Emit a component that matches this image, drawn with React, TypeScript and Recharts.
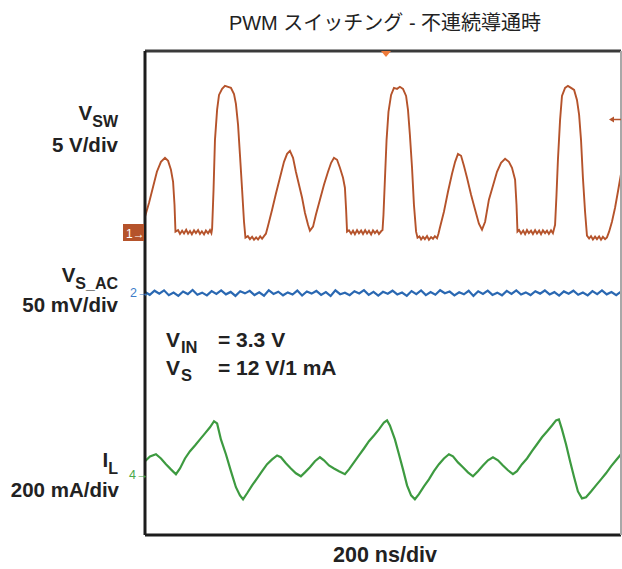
import React from "react";
import { ComposedChart, Line, XAxis, YAxis, ReferenceLine } from "recharts";

const title = "PWM スイッチング - 不連続導通時";
const timeLabel = "200 ns/div";

// time in ns, 200 ns/div, 10 divisions
const majorTimeGrid = [200, 400, 600, 800, 1200, 1400, 1600, 1800];
const majorTimeTicks = [0, 200, 400, 600, 800, 1000, 1200, 1400, 1600, 1800, 2000];
// vertical grid in divisions, 8 divisions
const majorDivGrid = [-3, -2, -1, 1, 2, 3];
const majorDivTicks = [-4, -3, -2, -1, 0, 1, 2, 3, 4];

// CH1 V_SW [ns, V]
const vswSamples: [number, number][] = [
  [0, 1.3], [17, 2.46], [34, 3.78], [50, 5.02], [67, 5.84], [84, 6.17], [97, 5.92], [109, 5.18], [118, 4.19], [124, 2.29], [128, 0.07],
  [139, 0.2], [147, -0.12], [156, 0.15], [164, -0.08], [173, 0.22], [181, -0.1], [189, 0.12], [197, -0.15], [206, 0.18], [214, -0.05],
  [223, 0.2], [231, -0.12], [239, 0.1], [248, -0.16], [256, 0.16], [265, -0.06], [273, 0.2], [279, -0.05],
  [282, 0.31], [288, 3.53], [294, 7.66], [303, 10.16], [311, 11.37], [324, 11.87], [336, 12.12], [349, 12.04], [361, 11.96], [374, 11.45],
  [382, 10.63], [391, 8.89], [399, 6.42], [408, 3.53], [416, 0.89], [422, -0.43],
  [432, -0.3], [441, -0.55], [450, -0.35], [458, -0.6], [467, -0.4], [475, -0.58], [484, -0.32], [492, -0.52], [500, -0.3], [508, -0.1],
  [517, 0.56], [534, 1.88], [550, 3.2], [567, 4.52], [584, 5.84], [597, 6.5], [609, 6.75], [622, 6.17], [634, 5.02], [647, 3.94],
  [660, 2.87], [672, 1.63], [685, 0.64], [693, 0.15], [706, 0.48], [718, 1.47], [735, 2.71], [752, 3.94], [769, 5.02], [782, 5.76],
  [794, 6.17], [807, 6.01], [819, 5.35], [832, 4.52], [840, 3.7], [845, 1.88], [849, 0.07],
  [857, 0.18], [866, -0.1], [874, 0.15], [882, -0.14], [891, 0.2], [899, -0.06], [908, 0.16], [916, -0.12], [925, 0.2], [933, -0.08],
  [941, 0.14], [950, -0.16], [958, 0.18], [966, -0.05], [975, 0.16], [983, -0.12], [992, 0.1], [998, 0.2],
  [1002, 1.47], [1008, 4.36], [1015, 7.66], [1023, 9.97], [1034, 11.37], [1046, 11.95], [1059, 11.87], [1071, 12.04], [1084, 11.87],
  [1097, 11.29], [1105, 10.13], [1113, 8.07], [1122, 5.35], [1130, 2.29], [1139, 0.07], [1145, -0.43],
  [1153, -0.32], [1160, -0.58], [1168, -0.36], [1176, -0.55], [1185, -0.3], [1193, -0.6], [1202, -0.38], [1210, -0.52], [1218, -0.3], [1227, -0.48], [1233, -0.1],
  [1239, 0.4], [1256, 1.72], [1273, 3.37], [1290, 4.85], [1303, 5.84], [1315, 6.5], [1328, 6.34], [1340, 5.51], [1353, 4.52],
  [1370, 3.12], [1387, 1.88], [1403, 0.73], [1416, 0.23], [1429, 0.89], [1445, 2.71], [1462, 3.86], [1479, 5.02], [1496, 5.76],
  [1513, 6.09], [1529, 5.84], [1542, 5.35], [1555, 4.36], [1561, 2.29], [1565, 0.07],
  [1572, 0.2], [1580, -0.1], [1589, 0.16], [1597, -0.14], [1605, 0.2], [1613, -0.06], [1622, 0.15], [1630, -0.12], [1639, 0.2], [1647, -0.08],
  [1656, 0.16], [1664, -0.14], [1672, 0.18], [1681, -0.05], [1689, 0.15], [1697, -0.12], [1706, 0.18], [1714, -0.06],
  [1723, 0.64], [1729, 3.12], [1735, 6.01], [1744, 9.31], [1752, 11.29], [1765, 11.95], [1777, 12.12], [1790, 11.95], [1803, 11.78],
  [1815, 10.96], [1824, 9.72], [1832, 7.66], [1840, 4.52], [1849, 1.72], [1857, -0.26],
  [1866, -0.5], [1874, -0.3], [1882, -0.58], [1891, -0.34], [1899, -0.55], [1908, -0.32], [1916, -0.6], [1924, -0.36], [1933, -0.55], [1941, -0.4],
  [1950, 0.07], [1962, 0.89], [1975, 2.05], [1987, 3.37], [2000, 4.85],
];

// CH2 V_S AC [ns, mV]
const vsacSamples: [number, number][] = [
  [0, 0.8], [20, -1.5], [40, 1.9], [60, -0.6], [80, 2.2], [100, -1.8], [120, 0.4], [140, -2.3], [160, 1.2], [180, -0.9],
  [200, 2.5], [220, -1.4], [240, 0.3], [260, -2.0], [280, 1.6], [300, -0.7], [320, 2.1], [340, -1.1], [360, 0.9], [380, -2.4],
  [400, 1.4], [420, -0.3], [440, 1.8], [460, -1.7], [480, 0.6], [500, -2.2], [520, 2.3], [540, -0.8], [560, 1.1], [580, -1.9],
  [600, 0.5], [620, -1.3], [640, 2.0], [660, -2.1], [680, 1.3], [700, -0.5], [720, 1.7], [740, -1.6], [760, 0.7], [780, -2.5],
  [800, 2.2], [820, -1.0], [840, 0.2], [860, -1.8], [880, 1.5], [900, -0.4], [920, 2.4], [940, -1.5], [960, 0.9], [980, -2.1],
  [1000, 1.0], [1020, -0.6], [1040, 1.9], [1060, -1.2], [1080, 0.4], [1100, -2.3], [1120, 1.6], [1140, -0.9], [1160, 2.1], [1180, -1.7],
  [1200, 0.8], [1220, -1.4], [1240, 2.3], [1260, -0.2], [1280, 1.2], [1300, -2.0], [1320, 0.6], [1340, -1.1], [1360, 1.8], [1380, -2.4],
  [1400, 1.4], [1420, -0.7], [1440, 2.0], [1460, -1.6], [1480, 0.3], [1500, -1.9], [1520, 1.7], [1540, -0.8], [1560, 2.2], [1580, -1.3],
  [1600, 0.5], [1620, -1.7], [1640, 1.5], [1660, -0.5], [1680, 2.1], [1700, -1.2], [1720, 0.7], [1740, -2.2], [1760, 1.3], [1780, -0.6],
  [1800, 1.9], [1820, -1.5], [1840, 0.4], [1860, -2.0], [1880, 1.6], [1900, -0.9], [1920, 2.2], [1940, -1.1], [1960, 0.8], [1980, -1.8],
  [2000, 1.1],
];

// CH4 I_L [ns, mA]
const ilSamples: [number, number][] = [
  [0, 44], [21, 60], [46, 67], [67, 53], [88, 34], [109, 17], [130, 1], [147, 20], [168, 53], [189, 77],
  [210, 96], [231, 116], [252, 136], [273, 156], [290, 176], [303, 169], [319, 116], [340, 67], [361, 11], [382, -42],
  [399, -69], [412, -82], [429, -62], [450, -36], [471, -13], [492, 11], [513, 34], [534, 50], [555, 63], [571, 57],
  [592, 37], [613, 20], [634, 4], [655, -6], [672, 7], [693, 24], [714, 44], [735, 57], [752, 47], [773, 30],
  [794, 20], [815, 11], [840, 1], [857, 17], [878, 40], [899, 63], [920, 86], [941, 110], [962, 129], [983, 149],
  [1004, 172], [1017, 179], [1029, 162], [1050, 116], [1067, 67], [1084, 17], [1101, -36], [1118, -69], [1134, -82], [1151, -65],
  [1172, -39], [1193, -16], [1214, 11], [1235, 34], [1256, 53], [1277, 67], [1294, 60], [1315, 40], [1336, 24], [1357, 7],
  [1378, -6], [1399, 11], [1420, 30], [1441, 47], [1462, 57], [1483, 47], [1504, 30], [1525, 14], [1546, 1], [1563, 11],
  [1584, 34], [1605, 53], [1626, 77], [1647, 100], [1668, 123], [1689, 142], [1710, 162], [1727, 179], [1739, 182], [1752, 149],
  [1769, 100], [1786, 44], [1803, -9], [1819, -56], [1836, -79], [1853, -75], [1874, -56], [1895, -36], [1916, -16], [1937, 4],
  [1958, 27], [1979, 47], [2000, 67],
];

const vswData = vswSamples.map(([t, v]) => ({ t, v }));
const vsacData = vsacSamples.map(([t, v]) => ({ t, v }));
const ilData = ilSamples.map(([t, v]) => ({ t, v }));

const W = 622;
const H = 569;
const C1 = "#b5532b";
const C2 = "#2a68b2";
const C4 = "#3d9a40";
const GRID = "#b8a77b";
const FONT = "'Liberation Sans', Arial, sans-serif";

export default function App() {
  return (
    <div style={{ position: "absolute", left: 0, top: 0, width: W, height: H, background: "#fff" }}>
      <ComposedChart width={W} height={H} margin={{ top: 51, right: 1, bottom: 34, left: 145 }}>
        <XAxis xAxisId="t" type="number" dataKey="t" domain={[0, 2000]} ticks={majorTimeTicks}
          orientation="bottom" mirror tick={false} tickLine={false}
          axisLine={{ stroke: "#1c1c1c", strokeWidth: 3 }} />
        <XAxis xAxisId="top" type="number" domain={[0, 2000]} ticks={majorTimeTicks}
          orientation="top" mirror tick={false} tickLine={false}
          axisLine={{ stroke: "#3a3a3a", strokeWidth: 3 }} />
        <YAxis yAxisId="div" type="number" domain={[-4, 4]} ticks={majorDivTicks}
          orientation="left" mirror tick={false} tickLine={false}
          axisLine={{ stroke: "#1c1c1c", strokeWidth: 3 }} />
        <YAxis yAxisId="divR" type="number" domain={[-4, 4]} ticks={majorDivTicks}
          orientation="right" mirror tick={false} tickLine={false}
          axisLine={{ stroke: "#a8a8a8", strokeWidth: 2 }} />
        <YAxis yAxisId="v1" hide type="number" domain={[-25, 15]} />
        <YAxis yAxisId="v2" hide type="number" domain={[-200, 200]} />
        <YAxis yAxisId="i4" hide type="number" domain={[-200, 1400]} />

        {/* dotted grid */}
        {majorTimeGrid.map((t) => (
          <ReferenceLine key={"gx" + t} xAxisId="t" yAxisId="div" x={t} stroke={GRID} strokeWidth={1.5} strokeDasharray="1.5 10.6" />
        ))}
        {majorDivGrid.map((d) => (
          <ReferenceLine key={"gy" + d} xAxisId="t" yAxisId="div" y={d} stroke={GRID} strokeWidth={1.5} strokeDasharray="1.5 8.02" />
        ))}
        {/* centre cross */}
        <ReferenceLine xAxisId="t" yAxisId="div" x={1000} stroke={GRID} strokeWidth={1.4} />
        <ReferenceLine xAxisId="t" yAxisId="div" y={0} stroke={GRID} strokeWidth={1.4} />

        <Line xAxisId="t" yAxisId="v2" data={vsacData} dataKey="v" stroke={C2} strokeWidth={2.2} dot={false} isAnimationActive={false} />
        <Line xAxisId="t" yAxisId="i4" data={ilData} dataKey="v" stroke={C4} strokeWidth={2.2} dot={false} isAnimationActive={false} />
        <Line xAxisId="t" yAxisId="v1" data={vswData} dataKey="v" stroke={C1} strokeWidth={1.9} dot={false} isAnimationActive={false} />
      </ComposedChart>

      <svg width={W} height={H} style={{ position: "absolute", left: 0, top: 0, pointerEvents: "none" }} fontFamily={FONT}>
        <text x={385} y={30} textAnchor="middle" fontSize={20} fill="#222"
          fontFamily="'Liberation Sans', 'Noto Sans CJK JP', sans-serif">{title}</text>
        <text x={385} y={562} textAnchor="middle" fontSize={21.5} fontWeight="bold" fill="#222">{timeLabel}</text>

        <g fontWeight="bold" fill="#222" textAnchor="end">
          <text x={118} y={120} fontSize={20.5}>V<tspan fontSize={16} dy={7}>SW</tspan></text>
          <text x={118} y={152} fontSize={20.5}>5 V/div</text>
          <text x={118} y={282} fontSize={20.5}>V<tspan fontSize={16} dy={7}>S_AC</tspan></text>
          <text x={118} y={312} fontSize={20.5}>50 mV/div</text>
          <text x={118} y={467} fontSize={20.5}>I<tspan fontSize={16} dy={7}>L</tspan></text>
          <text x={119} y={497} fontSize={20.5}>200 mA/div</text>
        </g>

        <g fontWeight="bold" fill="#222">
          <text x={166} y={347} fontSize={21}>V<tspan x={181} fontSize={16.5} dy={6}>IN</tspan><tspan x={218} dy={-6}>= 3.3 V</tspan></text>
          <text x={166} y={375} fontSize={21}>V<tspan x={181} fontSize={16.5} dy={6}>S</tspan><tspan x={218} dy={-6}>= 12 V/1 mA</tspan></text>
        </g>

        {/* channel markers */}
        <rect x={123} y={224} width={21} height={17} fill={C1} />
        <text x={126} y={237.5} fontSize={12} fill="#fff">1→</text>
        <text x={130} y={297} fontSize={12.5} fill="#3d7cc9">2→</text>
        <text x={129} y={479} fontSize={12.5} fill="#4aa84a">4→</text>
        <polygon points="381,51 391,51 386,57" fill="#ee7a3a" />
        <line x1={613} y1={119.5} x2={621} y2={119.5} stroke={C1} strokeWidth={1.5} />
        <polygon points="609,119.5 614,116.5 614,122.5" fill={C1} />
      </svg>
    </div>
  );
}
